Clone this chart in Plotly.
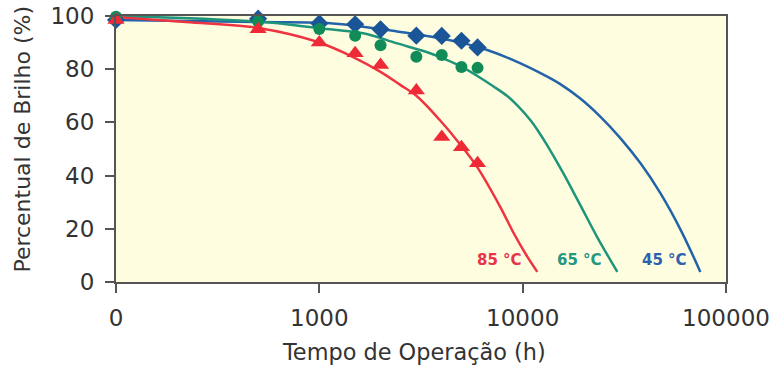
import math
import plotly.graph_objects as go

# Measured points (time in h, brightness %)
time_pts = [100, 500, 1000, 1500, 2000, 3000, 4000, 5000, 6000]
pts_45 = [98.5, 99.0, 97.2, 96.9, 95.0, 92.6, 92.5, 90.7, 88.2]
pts_65 = [99.7, 97.9, 95.1, 92.6, 89.0, 84.7, 85.3, 80.8, 80.5]
pts_85 = [98.5, 95.0, 90.0, 86.0, 81.6, 72.0, 54.5, 50.7, 44.6]

# Fitted curves
curve_85_x = [100, 220, 500, 975, 1500, 2000, 2500, 3000, 3900, 4900, 6000, 7800, 9000, 10500, 11800]
curve_85_y = [99.6, 97.7, 95.5, 90.3, 84.2, 79.0, 74.1, 70.0, 61.0, 52.0, 43.0, 27.9, 18.6, 9.7, 3.8]

curve_65_x = [100, 494, 1009, 1643, 2415, 3510, 4256, 5102, 6183, 7166, 8400, 9513, 10900, 11936,
              13210, 14470, 15840, 19210, 23290, 29220]
curve_65_y = [100.0, 97.9, 95.4, 93.5, 89.7, 86.0, 83.4, 80.6, 76.8, 73.6, 69.9, 66.0, 60.9, 56.7,
              51.4, 46.2, 40.9, 28.9, 16.8, 3.8]

curve_45_x = [100, 505, 1130, 1643, 2415, 3510, 5102, 6694, 8990, 13210, 15310, 19210, 24090,
              30220, 37910, 47560, 59660, 74820]
curve_45_y = [98.5, 97.7, 97.3, 96.0, 94.2, 92.3, 89.8, 87.2, 83.4, 77.2, 74.4, 69.0, 62.2,
              54.1, 44.7, 33.4, 19.8, 3.8]

x_tickvals = [100, 1000, 10000, 100000]
x_ticktext = ["0", "1000", "10000", "100000"]
y_tickvals = [0, 20, 40, 60, 80, 100]

labels = ["85 °C", "65 °C", "45 °C"]
label_x = [7674, 18990, 49770]   # hours
label_y = [8.2, 8.2, 8.2]

x_title = "Tempo de Operação (h)"
y_title = "Percentual de Brilho (%)"

RED_LINE = "#EE3440"
RED_MARK = "#EE2A36"
GREEN_LINE = "#1E957A"
GREEN_MARK = "#118C58"
BLUE_LINE = "#2263AA"
BLUE_MARK = "#1A5597"
LABEL_COLORS = ["#E8334A", "#23977F", "#2A62AE"]
TEXT = "#333333"
FONT = "DejaVu Sans"

fig = go.Figure()

for cx, cy, col in [(curve_45_x, curve_45_y, BLUE_LINE),
                    (curve_65_x, curve_65_y, GREEN_LINE),
                    (curve_85_x, curve_85_y, RED_LINE)]:
    fig.add_trace(go.Scatter(x=cx, y=cy, mode="lines",
                             line=dict(color=col, width=2.5, shape="spline", smoothing=1.0),
                             showlegend=False, hoverinfo="skip", cliponaxis=False))

fig.add_trace(go.Scatter(x=time_pts, y=pts_45, mode="markers",
                         marker=dict(symbol="diamond", size=14, color=BLUE_MARK),
                         showlegend=False, cliponaxis=False, name="45 °C"))
fig.add_trace(go.Scatter(x=time_pts, y=pts_65, mode="markers",
                         marker=dict(symbol="circle", size=12, color=GREEN_MARK),
                         showlegend=False, cliponaxis=False, name="65 °C"))
fig.add_trace(go.Scatter(x=time_pts, y=pts_85, mode="markers",
                         marker=dict(symbol="triangle-up", size=15, color=RED_MARK),
                         showlegend=False, cliponaxis=False, name="85 °C"))

# curve labels (annotation x on a log axis is given as log10 of the value)
for t, lx, ly, c in zip(labels, label_x, label_y, LABEL_COLORS):
    fig.add_annotation(x=math.log10(lx), y=ly, xref="x", yref="y", text="<b>" + t + "</b>",
                       showarrow=False, font=dict(family=FONT, size=15, color=c),
                       xanchor="center", yanchor="middle")

# axis titles (placed as annotations for exact positioning)
fig.add_annotation(x=0.4885, y=-0.263, xref="paper", yref="paper", text=x_title, showarrow=False,
                   font=dict(family=FONT, size=22.4, color=TEXT), xanchor="center", yanchor="middle")
fig.add_annotation(x=-0.1525, y=0.539, xref="paper", yref="paper", text=y_title, showarrow=False,
                   textangle=-90, font=dict(family=FONT, size=22, color=TEXT),
                   xanchor="center", yanchor="middle")

AX = "#555555"
TICKFONT = dict(family=FONT, size=23, color=TEXT)

fig.update_xaxes(type="log", range=[2, 5], tickvals=x_tickvals, ticktext=x_ticktext,
                 showgrid=False, zeroline=False, showline=True, linecolor=AX, linewidth=2,
                 mirror=True, ticks="outside", ticklen=9, tickwidth=1.5, tickcolor=AX,
                 tickfont=TICKFONT, ticklabelstandoff=5, automargin=False)
fig.update_yaxes(range=[0, 100], tickvals=y_tickvals,
                 showgrid=False, zeroline=False, showline=True, linecolor=AX, linewidth=2,
                 mirror=True, ticks="outside", ticklen=9, tickwidth=1.5, tickcolor=AX,
                 tickfont=TICKFONT, ticklabelstandoff=6, automargin=False)

fig.update_layout(width=774, height=367, margin=dict(l=116, r=48, t=16, b=85),
                  plot_bgcolor="#FFFDE0", paper_bgcolor="#FFFFFF")

# remove the default 8 px page margin so the figure sits at the window's top-left corner
fig.write_html("out.html", config={"displayModeBar": False},
               post_script="document.body.style.margin='0';")
